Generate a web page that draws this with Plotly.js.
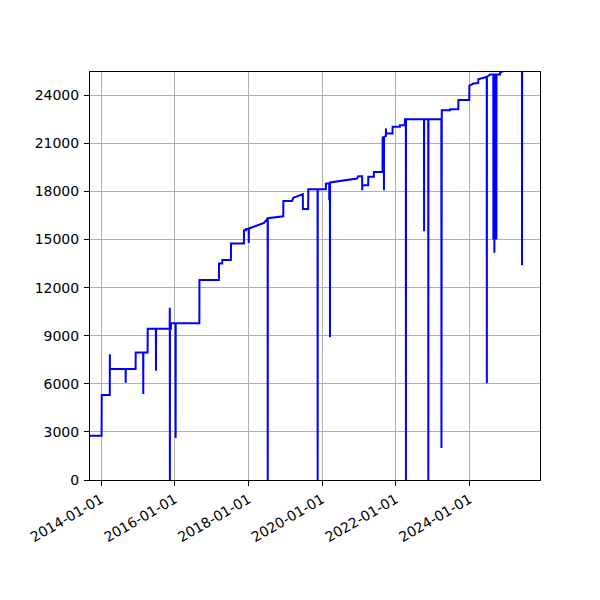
<!DOCTYPE html>
<html>
<head>
<meta charset="utf-8">
<script src="https://cdn.plot.ly/plotly-3.0.1.min.js"></script>
<style>
  body { margin: 0; background: #fff; }
  #chart { width: 600px; height: 600px; }
</style>
</head>
<body>
<div id="chart"></div>
<script>
// readings, one value per date
const dates = [
  "2013-09-14", "2014-01-07", "2014-01-08", "2014-03-29", "2014-03-30", "2014-03-31",
  "2014-09-02", "2014-09-03", "2014-09-04", "2014-12-10", "2014-12-11",
  "2015-02-23", "2015-02-24", "2015-02-25", "2015-04-08", "2015-04-09",
  "2015-06-29", "2015-06-30", "2015-07-01", "2015-11-13", "2015-11-14", "2015-11-15",
  "2015-11-16", "2015-11-25", "2015-11-26", "2016-01-10", "2016-01-11", "2016-01-12",
  "2016-09-02", "2016-09-03", "2017-03-15", "2017-03-16", "2017-04-17", "2017-04-18",
  "2017-07-12", "2017-07-13", "2017-11-18", "2017-11-19", "2017-12-08", "2017-12-09",
  "2018-01-04", "2018-01-05", "2018-01-06", "2018-06-05", "2018-07-05", "2018-07-11",
  "2018-07-12", "2018-07-13", "2018-12-13", "2018-12-14", "2019-03-10", "2019-03-22",
  "2019-06-25", "2019-06-26", "2019-08-17", "2019-08-18", "2019-11-18", "2019-11-19",
  "2019-11-20", "2020-02-08", "2020-02-09", "2020-03-12", "2020-03-13", "2020-03-14",
  "2020-03-19", "2020-03-20", "2020-03-21", "2020-12-13", "2020-12-25", "2021-02-02",
  "2021-02-03", "2021-02-04", "2021-04-03", "2021-04-04", "2021-05-29", "2021-05-30",
  "2021-08-23", "2021-08-24", "2021-09-05", "2021-09-06", "2021-09-07", "2021-09-25",
  "2021-09-26", "2021-09-27", "2021-11-30", "2021-12-01", "2022-02-11", "2022-02-12",
  "2022-04-01", "2022-04-02", "2022-04-11", "2022-04-12", "2022-04-13", "2022-10-08",
  "2022-10-09", "2022-10-10", "2022-11-19", "2022-11-20", "2022-11-21", "2023-03-29",
  "2023-03-30", "2023-03-31", "2023-04-01", "2023-04-02", "2023-06-23", "2023-06-24",
  "2023-09-13", "2023-09-14", "2023-12-31", "2024-01-01", "2024-02-10", "2024-03-29",
  "2024-03-30", "2024-06-21", "2024-06-22", "2024-06-23", "2024-07-05", "2024-07-25",
  "2024-08-25", "2024-08-26", "2024-08-27", "2024-09-04", "2024-09-05", "2024-09-06",
  "2024-09-14", "2024-09-15", "2024-09-16", "2024-09-24", "2024-09-25", "2024-09-26",
  "2024-10-31", "2024-11-01", "2024-11-20", "2025-06-05", "2025-06-06", "2025-06-07",
  "2025-11-30"
];

const values = [
  2760, 2760, 5300, 5300, 7850, 6920,
  6920, 6070, 6920, 6920, 7960,
  7960, 5360, 7960, 7960, 9430,
  9430, 6810, 9430, 9430, 10740, 0,
  9430, 9430, 9770, 9770, 2620, 9770,
  9770, 12470, 12470, 13510, 13510, 13720,
  13720, 14760, 14760, 15580, 15580, 15660,
  15660, 14780, 15690, 16040, 16310, 16320,
  0, 16330, 16450, 17410, 17410, 17600,
  17830, 16900, 16900, 18130, 18130, 0,
  18130, 18130, 18490, 18500, 17450, 18520,
  18550, 8910, 18560, 18800, 18950, 18950,
  18080, 18390, 18390, 18910, 18910, 19220,
  19220, 21360, 21360, 18080, 21400, 21450,
  21920, 21610, 21610, 22030, 22030, 22130,
  22130, 22500, 22500, 0, 22500, 22500,
  15520, 22500, 22500, 0, 22500, 22500,
  2000, 22500, 22500, 23060, 23060, 23130,
  23130, 23700, 23700, 24600, 24730, 24760,
  25000, 25150, 6030, 25160, 25200, 25300,
  25300, 15000, 25300, 25300, 14170, 25300,
  25300, 15000, 25300, 25300, 15000, 25300,
  25300, 25400, 25480, 25700, 13400, 25700,
  25800
];

const yTop = 25450;
const xStart = "2013-09-14";
const xEnd = "2025-12-01";

const axisFont = { family: "DejaVu Sans, sans-serif", size: 14, color: "#000" };

const trace = {
  x: dates,
  y: values,
  type: "scatter",
  mode: "lines",
  line: { color: "#0000ff", width: 2 },
  hoverinfo: "x+y"
};

const layout = {
  width: 600,
  height: 600,
  margin: { l: 90, r: 60, t: 72, b: 120 },
  paper_bgcolor: "#fff",
  plot_bgcolor: "#fff",
  showlegend: false,
  xaxis: {
    type: "date",
    range: [xStart, xEnd],
    tick0: "2014-01-01",
    dtick: "M24",
    tickformat: "%Y-%m-%d",
    tickangle: -30,
    ticks: "outside",
    ticklen: 5,
    tickwidth: 1,
    tickcolor: "#000",
    tickfont: axisFont,
    showgrid: true,
    gridcolor: "#b0b0b0",
    gridwidth: 1,
    showline: true,
    linecolor: "#000",
    linewidth: 1,
    mirror: true,
    zeroline: false
  },
  yaxis: {
    range: [0, yTop],
    tick0: 0,
    dtick: 3000,
    tickformat: "d",
    ticks: "outside",
    ticklen: 5,
    tickwidth: 1,
    tickcolor: "#000",
    tickfont: axisFont,
    ticklabelstandoff: 2,
    showgrid: true,
    gridcolor: "#b0b0b0",
    gridwidth: 1,
    showline: true,
    linecolor: "#000",
    linewidth: 1,
    mirror: true,
    zeroline: false
  }
};

Plotly.newPlot("chart", [trace], layout, { staticPlot: true });
</script>
</body>
</html>
